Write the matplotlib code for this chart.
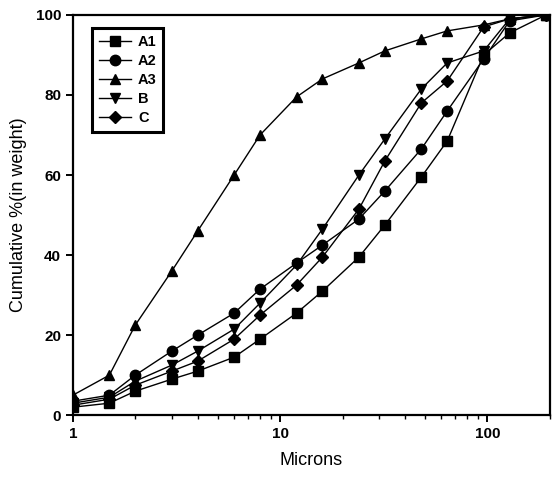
import numpy as np
import matplotlib
matplotlib.use("Agg")
import matplotlib.pyplot as plt
from matplotlib.ticker import NullFormatter, LogLocator

plt.rcParams["font.family"] = ["Liberation Sans", "DejaVu Sans"]

# particle size (microns) and cumulative % for each sample
microns = [1, 1.5, 2, 3, 4, 6, 8, 12, 16, 24, 32, 48, 64, 96, 128, 192]
A1 = [2, 3, 6, 9, 11, 14.5, 19, 25.5, 31, 39.5, 47.5, 59.5, 68.5, 90, 95.5, 100]
A2 = [3.5, 5, 10, 16, 20, 25.5, 31.5, 38, 42.5, 49, 56, 66.5, 76, 89, 98.5, 100]
A3 = [5, 10, 22.5, 36, 46, 60, 70, 79.5, 84, 88, 91, 94, 96, 97.5, 99, 100]
B = [3, 4.5, 8.5, 12.5, 16, 21.5, 28, 37.5, 46.5, 60, 69, 81.5, 88, 91, 99, 100]
C = [2.5, 4, 7.5, 11, 13.5, 19, 25, 32.5, 39.5, 51.5, 63.5, 78, 83.5, 97, 99, 100]

series = [("A1", A1, "s"), ("A2", A2, "o"), ("A3", A3, "^"), ("B", B, "v"), ("C", C, "D")]

fig = plt.figure(figsize=(5.52, 4.8), dpi=100)
ax = fig.add_axes([0.132, 0.135, 0.864, 0.834])

for name, vals, m in series:
    ms = 6.5 if m == "D" else 7.5
    ax.plot(microns, vals, color="black", lw=1.0, marker=m, ms=ms, label=name)

ax.set_xscale("log")
ax.set_xlim(1, 200)
ax.set_ylim(0, 100)
ax.set_yticks([0, 20, 40, 60, 80, 100])
ax.set_xticks([1, 10, 100])
ax.set_xticklabels(["1", "10", "100"])
ax.xaxis.set_minor_locator(LogLocator(base=10, subs=np.arange(2, 10)))
ax.xaxis.set_minor_formatter(NullFormatter())

for s in ax.spines.values():
    s.set_linewidth(1.6)
ax.tick_params(axis="both", which="major", direction="out", length=5, width=1.4,
               labelsize=11, top=False, right=False)
ax.tick_params(axis="x", which="minor", direction="out", length=3, width=1.0, top=False)
for lab in ax.get_xticklabels() + ax.get_yticklabels():
    lab.set_fontweight("bold")

ax.set_xlabel("Microns", fontsize=13, labelpad=8)
ax.set_ylabel("Cumulative %(in weight)", fontsize=13, labelpad=6)

leg = ax.legend(loc="upper left", bbox_to_anchor=(0.025, 0.985), fontsize=10.5,
                handlelength=2.2, handletextpad=0.5, labelspacing=0.35,
                borderpad=0.45, fancybox=False, edgecolor="black", framealpha=1)
leg.get_frame().set_linewidth(2.2)
for t in leg.get_texts():
    t.set_fontweight("bold")

fig.savefig("out.png", dpi=100)
